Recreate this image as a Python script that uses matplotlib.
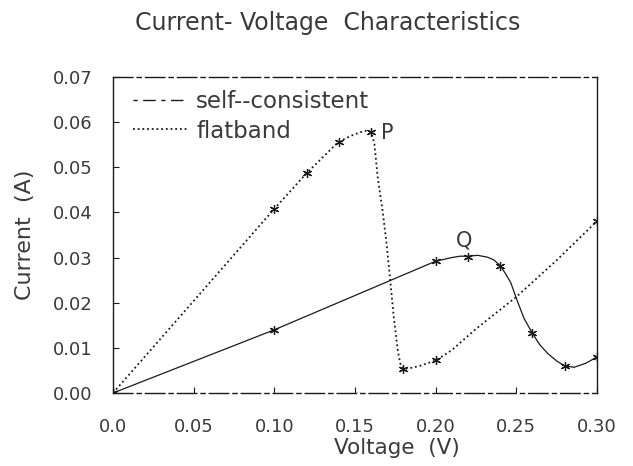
import numpy as np
import matplotlib
matplotlib.use('Agg')
import matplotlib.pyplot as plt
from matplotlib.lines import Line2D

# measured points (markers)
v_flat = [0.0, 0.10, 0.12, 0.14, 0.16, 0.18, 0.20, 0.30]
i_flat = [0.0, 0.0408, 0.0487, 0.0557, 0.0578, 0.0053, 0.0072, 0.0381]
v_self = [0.0, 0.10, 0.20, 0.22, 0.24, 0.26, 0.28, 0.30]
i_self = [0.0, 0.0140, 0.0292, 0.0302, 0.0282, 0.0132, 0.0060, 0.0080]

# smooth curves
v_flat_curve = [0.0, 0.10, 0.12, 0.14, 0.149, 0.156, 0.160, 0.162, 0.164, 0.167,
                0.1695, 0.172, 0.174, 0.1765, 0.178, 0.180, 0.184, 0.19, 0.20,
                0.21, 0.225, 0.25, 0.275, 0.30]
i_flat_curve = [0.0, 0.0408, 0.0487, 0.0557, 0.0572, 0.0581, 0.0578, 0.0553, 0.0480,
                0.0406, 0.0333, 0.0244, 0.0169, 0.0095, 0.0066, 0.0053, 0.0055,
                0.0060, 0.0072, 0.0095, 0.0142, 0.0213, 0.0294, 0.0381]
v_self_curve = [0.0, 0.10, 0.20, 0.21, 0.215, 0.22, 0.226, 0.232, 0.236, 0.24, 0.243,
                0.2466, 0.2507, 0.2548, 0.26, 0.2645, 0.2693, 0.275, 0.28, 0.2858,
                0.2932, 0.30]
i_self_curve = [0.0, 0.0140, 0.0292, 0.0300, 0.0303, 0.0303, 0.0305, 0.0301, 0.0295,
                0.0282, 0.0266, 0.0244, 0.0203, 0.0165, 0.0132, 0.0107, 0.0088,
                0.0071, 0.0060, 0.0057, 0.0066, 0.0080]

ink = '#1a1a1a'
txt = '#3a3a3a'
plt.rcParams['font.family'] = 'DejaVu Sans'
plt.rcParams['font.size'] = 13

W, H = 633, 466
fig = plt.figure(figsize=(W / 100, H / 100), dpi=100)
ax = fig.add_axes([113 / W, 1 - 393 / H, 484 / W, 316 / H])

ax.plot(v_self_curve, i_self_curve, color=ink, lw=0.9)
ax.plot(v_flat_curve, i_flat_curve, color=ink, lw=1.3, linestyle=(0, (1, 1.6)))
ax.plot(v_self, i_self, linestyle='none', marker=(6, 2, 0), ms=6.5, mew=0.9, color=ink)
ax.plot(v_flat, i_flat, linestyle='none', marker=(6, 2, 0), ms=6.5, mew=0.9, color=ink)

ax.text(0.166, 0.0575, 'P', fontsize=15, color=txt, va='center', ha='left')
ax.text(0.2176, 0.0338, 'Q', fontsize=15, color=txt, va='center', ha='center')

ax.set_xlim(0, 0.30)
ax.set_ylim(0, 0.07)
ax.set_xticks(np.arange(0, 0.301, 0.05))
ax.set_xticklabels(['0.0', '0.05', '0.10', '0.15', '0.20', '0.25', '0.30'])
ax.set_yticks(np.arange(0, 0.0701, 0.01))
ax.set_yticklabels(['%.2f' % t for t in np.arange(0, 0.0701, 0.01)])
ax.tick_params(direction='in', length=4, width=0.8, color=ink, labelcolor=txt,
               labelsize=13)
ax.tick_params(axis='x', pad=18)
ax.tick_params(axis='y', pad=15)

for side in ['left', 'right']:
    ax.spines[side].set_color(ink)
    ax.spines[side].set_linewidth(1.0)
for side in ['top', 'bottom']:
    ax.spines[side].set_color(ink)
    ax.spines[side].set_linewidth(1.0)
    ax.spines[side].set_linestyle((0, (14, 3, 3, 3)))

fig.text(397 / W, 1 - 448 / H, 'Voltage  (V)', fontsize=15.5, color=txt,
         ha='center', va='center')
fig.text(25 / W, 1 - 235 / H, 'Current  (A)', fontsize=16, color=txt,
         ha='center', va='center', rotation=90)
fig.text(328 / W, 1 - 23 / H, 'Current- Voltage  Characteristics', fontsize=17,
         color=txt, ha='center', va='center')

handles = [Line2D([], [], color=ink, lw=1.0, dashes=[3, 4, 9, 4]),
           Line2D([], [], color=ink, lw=1.3, linestyle=(0, (1, 1.6)))]
ax.legend(handles, ['self--consistent', 'flatband'], loc='upper left',
          bbox_to_anchor=(0.041, 0.96), frameon=False, handlelength=2.4,
          handletextpad=0.36, labelspacing=0.3, borderpad=0, borderaxespad=0,
          fontsize=16.5, labelcolor=txt)

fig.savefig('out.png', dpi=100)
